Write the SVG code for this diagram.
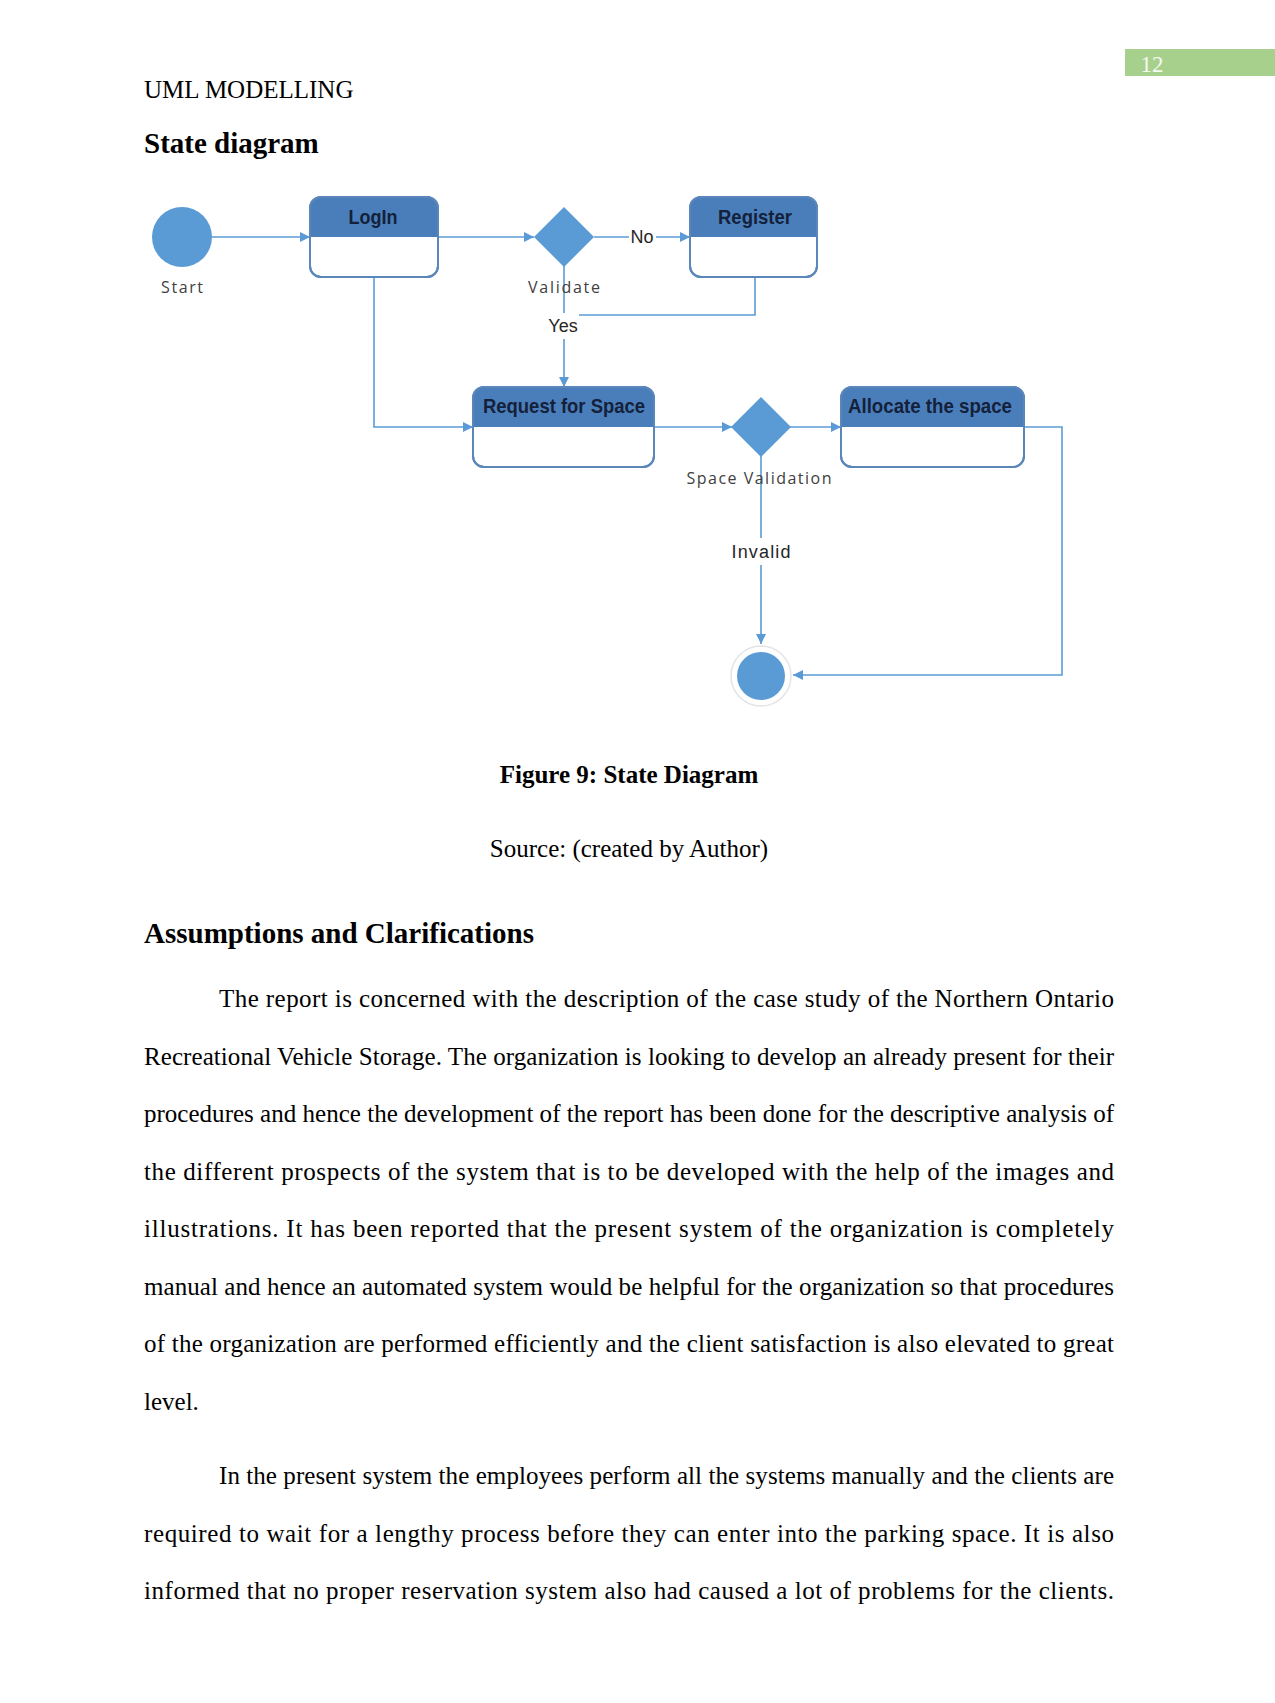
<svg xmlns="http://www.w3.org/2000/svg" width="1275" height="1703" viewBox="0 0 1275 1703">
<style>
.body{font-family:"Liberation Serif","Times New Roman",serif;font-size:25px;fill:#000}
.hd{font-family:"Liberation Serif","Times New Roman",serif;font-size:29px;font-weight:bold;fill:#000}
.cap{font-family:"Liberation Serif","Times New Roman",serif;font-size:25px;font-weight:bold;fill:#000}
.ttl{font-family:"Liberation Sans",Arial,sans-serif;font-size:21px;font-weight:bold;fill:#14213a}
.lbl{font-family:"Open Sans","Liberation Sans",sans-serif;font-size:16px;fill:#404040}
.glbl{font-family:"Liberation Sans",Arial,sans-serif;font-size:18px;fill:#262626}
.conn{fill:none;stroke:#5b9bd5;stroke-width:1.6}
.box{fill:#fff;stroke:#5a86ba;stroke-width:2}
.hdr{fill:#4a7ebb}
.dia{fill:#5b9bd5}
</style>
<defs>
<marker id="arr" viewBox="0 0 10 10" refX="10" refY="5" markerWidth="10" markerHeight="10" markerUnits="userSpaceOnUse" orient="auto">
<path d="M0,0 L10,5 L0,10 z" fill="#5b9bd5"/>
</marker>
<clipPath id="c1"><rect x="310" y="197" width="128" height="80" rx="11"/></clipPath>
<clipPath id="c2"><rect x="690" y="197" width="127" height="80" rx="11"/></clipPath>
<clipPath id="c3"><rect x="473" y="387" width="181" height="80" rx="11"/></clipPath>
<clipPath id="c4"><rect x="841" y="387" width="183" height="80" rx="11"/></clipPath>
</defs>

<!-- Page header -->
<rect x="1125" y="49" width="150" height="27" fill="#a8d08d"/>
<text x="1152" y="72" text-anchor="middle" style="font-family:'Liberation Serif',serif;font-size:23px;fill:#f4f9f0">12</text>
<text x="144" y="98" style="font-family:'Liberation Serif',serif;font-size:25px;fill:#000">UML MODELLING</text>
<text x="144" y="153" class="hd">State diagram</text>

<!-- Connectors -->
<g id="connectors">
<line class="conn" x1="212" y1="237" x2="310" y2="237" marker-end="url(#arr)"/>
<line class="conn" x1="438" y1="237" x2="534" y2="237" marker-end="url(#arr)"/>
<line class="conn" x1="594" y1="237" x2="629" y2="237"/>
<line class="conn" x1="656" y1="237" x2="690" y2="237" marker-end="url(#arr)"/>
<polyline class="conn" points="755,277 755,315 579,315"/>
<line class="conn" x1="564" y1="266" x2="564" y2="313"/>
<line class="conn" x1="564" y1="339" x2="564" y2="387" marker-end="url(#arr)"/>
<polyline class="conn" points="374,277 374,427 473,427" marker-end="url(#arr)"/>
<line class="conn" x1="654" y1="427" x2="732" y2="427" marker-end="url(#arr)"/>
<line class="conn" x1="790" y1="427" x2="841" y2="427" marker-end="url(#arr)"/>
<polyline class="conn" points="1024,427 1062,427 1062,675 793,675" marker-end="url(#arr)"/>
<line class="conn" x1="761" y1="456" x2="761" y2="538"/>
<line class="conn" x1="761" y1="565" x2="761" y2="644" marker-end="url(#arr)"/>
</g>

<!-- Start -->
<g id="start">
<circle cx="182" cy="237" r="30" fill="#5b9bd5"/>
<text x="182" y="293" class="lbl" text-anchor="middle" textLength="42" lengthAdjust="spacing">Start</text>
</g>

<!-- LogIn -->
<g id="login">
<rect x="310" y="197" width="128" height="80" rx="11" class="box"/>
<rect x="310" y="197" width="128" height="40" class="hdr" clip-path="url(#c1)"/>
<rect x="310" y="197" width="128" height="80" rx="11" fill="none" stroke="#5a86ba" stroke-width="2"/>
<text x="373" y="224" class="ttl" text-anchor="middle" textLength="49" lengthAdjust="spacingAndGlyphs">LogIn</text>
</g>

<!-- Validate -->
<g id="validate">
<polygon points="564,207 594,237 564,267 534,237" class="dia"/>
<text x="564" y="293" class="lbl" text-anchor="middle" textLength="72" lengthAdjust="spacing">Validate</text>
</g>

<!-- Register -->
<g id="register">
<rect x="690" y="197" width="127" height="80" rx="11" class="box"/>
<rect x="690" y="197" width="127" height="40" class="hdr" clip-path="url(#c2)"/>
<rect x="690" y="197" width="127" height="80" rx="11" fill="none" stroke="#5a86ba" stroke-width="2"/>
<text x="755" y="224" class="ttl" text-anchor="middle" textLength="74" lengthAdjust="spacingAndGlyphs">Register</text>
</g>

<!-- Request for Space -->
<g id="request">
<rect x="473" y="387" width="181" height="80" rx="11" class="box"/>
<rect x="473" y="387" width="181" height="40" class="hdr" clip-path="url(#c3)"/>
<rect x="473" y="387" width="181" height="80" rx="11" fill="none" stroke="#5a86ba" stroke-width="2"/>
<text x="564" y="413" class="ttl" text-anchor="middle" textLength="162" lengthAdjust="spacingAndGlyphs">Request for Space</text>
</g>

<!-- Space Validation -->
<g id="space-validation">
<polygon points="761,397 791,427 761,457 731,427" class="dia"/>
<text x="759" y="484" class="lbl" text-anchor="middle" textLength="145" lengthAdjust="spacing">Space Validation</text>
</g>

<!-- Allocate the space -->
<g id="allocate">
<rect x="841" y="387" width="183" height="80" rx="11" class="box"/>
<rect x="841" y="387" width="183" height="40" class="hdr" clip-path="url(#c4)"/>
<rect x="841" y="387" width="183" height="80" rx="11" fill="none" stroke="#5a86ba" stroke-width="2"/>
<text x="930" y="413" class="ttl" text-anchor="middle" textLength="164" lengthAdjust="spacingAndGlyphs">Allocate the space</text>
</g>

<!-- End -->
<g id="end">
<circle cx="761" cy="676" r="30" fill="#fff" stroke="#e4e4e4" stroke-width="1.5"/>
<circle cx="761" cy="676" r="24" fill="#5b9bd5"/>
</g>

<!-- Guard labels -->
<g id="guards">
<text x="642" y="243" class="glbl" text-anchor="middle">No</text>
<text x="563" y="332" class="glbl" text-anchor="middle">Yes</text>
<text x="761" y="558" class="glbl" text-anchor="middle" textLength="59" lengthAdjust="spacing">Invalid</text>
</g>

<!-- Caption -->
<text x="629" y="783" class="cap" text-anchor="middle">Figure 9: State Diagram</text>
<text x="629" y="857" class="body" text-anchor="middle">Source: (created by Author)</text>

<text x="144" y="943" class="hd">Assumptions and Clarifications</text>

<text x="219" y="1007" class="body" textLength="895" lengthAdjust="spacing">The report is concerned with the description of the case study of the Northern Ontario</text>
<text x="144" y="1064.5" class="body" textLength="970" lengthAdjust="spacing">Recreational Vehicle Storage. The organization is looking to develop an already present for their</text>
<text x="144" y="1122" class="body" textLength="970" lengthAdjust="spacing">procedures and hence the development of the report has been done for the descriptive analysis of</text>
<text x="144" y="1179.5" class="body" textLength="970" lengthAdjust="spacing">the different prospects of the system that is to be developed with the help of the images and</text>
<text x="144" y="1237" class="body" textLength="970" lengthAdjust="spacing">illustrations. It has been reported that the present system of the organization is completely</text>
<text x="144" y="1294.5" class="body" textLength="970" lengthAdjust="spacing">manual and hence an automated system would be helpful for the organization so that procedures</text>
<text x="144" y="1352" class="body" textLength="970" lengthAdjust="spacing">of the organization are performed efficiently and the client satisfaction is also elevated to great</text>
<text x="144" y="1409.5" class="body">level.</text>

<text x="219" y="1484" class="body" textLength="895" lengthAdjust="spacing">In the present system the employees perform all the systems manually and the clients are</text>
<text x="144" y="1541.5" class="body" textLength="970" lengthAdjust="spacing">required to wait for a lengthy process before they can enter into the parking space. It is also</text>
<text x="144" y="1599" class="body" textLength="970" lengthAdjust="spacing">informed that no proper reservation system also had caused a lot of problems for the clients.</text>
</svg>
